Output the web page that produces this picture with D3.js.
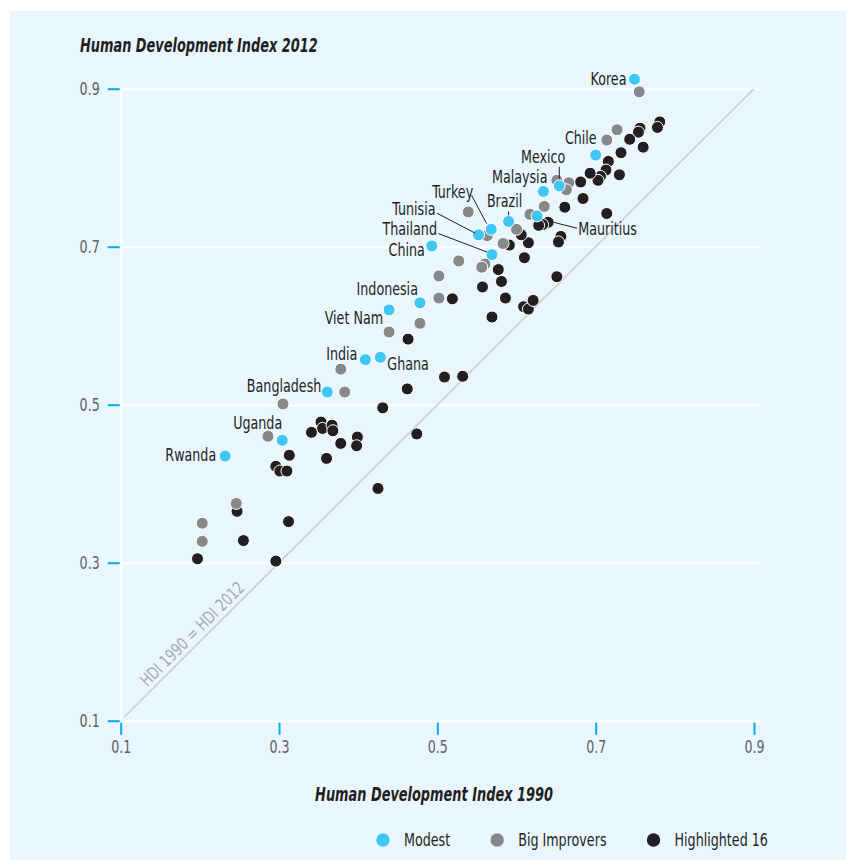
<!DOCTYPE html>
<html>
<head>
<meta charset="utf-8">
<script src="https://cdn.jsdelivr.net/npm/d3@7"></script>
<style>
  body { margin: 0; background: #fff; }
  svg { display: block; font-family: "Liberation Sans Narrow", "Arial Narrow", "DejaVu Sans Condensed", sans-serif; }
  .tick text { fill: #5f6062; font-size: 18px; }
  .label { fill: #231f20; font-size: 17px; }
  .title { fill: #231f20; font-size: 19px; font-weight: bold; font-style: italic; }
</style>
</head>
<body>
<div id="chart"></div>
<script>
// HDI 1990 (x) against HDI 2012 (y)
const modest = [
    { c: 'Korea', x: 0.749, y: 0.912 },
    { c: 'Chile', x: 0.700, y: 0.816 },
    { c: 'Mexico', x: 0.654, y: 0.777 },
    { c: 'Malaysia', x: 0.634, y: 0.770 },
    { c: '', x: 0.626, y: 0.739 },
    { c: 'Brazil', x: 0.590, y: 0.732 },
    { c: 'Turkey', x: 0.568, y: 0.722 },
    { c: 'Tunisia', x: 0.552, y: 0.715 },
    { c: 'Thailand', x: 0.569, y: 0.690 },
    { c: 'China', x: 0.493, y: 0.701 },
    { c: 'Indonesia', x: 0.478, y: 0.629 },
    { c: 'Viet Nam', x: 0.439, y: 0.620 },
    { c: 'India', x: 0.409, y: 0.557 },
    { c: 'Ghana', x: 0.428, y: 0.560 },
    { c: 'Bangladesh', x: 0.361, y: 0.516 },
    { c: 'Uganda', x: 0.304, y: 0.455 },
    { c: 'Rwanda', x: 0.232, y: 0.435 }
];

const bigImprovers = [
    { x: 0.755, y: 0.896 }, { x: 0.727, y: 0.848 }, { x: 0.714, y: 0.835 },
    { x: 0.651, y: 0.784 }, { x: 0.666, y: 0.781 }, { x: 0.663, y: 0.772 },
    { x: 0.635, y: 0.751 }, { x: 0.617, y: 0.741 }, { x: 0.600, y: 0.722 },
    { x: 0.583, y: 0.704 }, { x: 0.563, y: 0.714 }, { x: 0.539, y: 0.744 },
    { x: 0.560, y: 0.678 }, { x: 0.556, y: 0.674 }, { x: 0.527, y: 0.682 },
    { x: 0.502, y: 0.663 }, { x: 0.502, y: 0.635 }, { x: 0.478, y: 0.603 },
    { x: 0.439, y: 0.592 }, { x: 0.378, y: 0.545 }, { x: 0.383, y: 0.516 },
    { x: 0.305, y: 0.501 }, { x: 0.286, y: 0.460 }, { x: 0.246, y: 0.375 },
    { x: 0.203, y: 0.350 }, { x: 0.203, y: 0.327 }
];

const highlighted = [
    { x: 0.781, y: 0.858 }, { x: 0.778, y: 0.851 }, { x: 0.756, y: 0.850 },
    { x: 0.754, y: 0.845 }, { x: 0.743, y: 0.836 }, { x: 0.760, y: 0.826 },
    { x: 0.732, y: 0.819 }, { x: 0.716, y: 0.808 }, { x: 0.713, y: 0.797 },
    { x: 0.730, y: 0.791 }, { x: 0.706, y: 0.789 }, { x: 0.703, y: 0.784 },
    { x: 0.693, y: 0.793 }, { x: 0.681, y: 0.782 }, { x: 0.684, y: 0.761 },
    { x: 0.661, y: 0.750 }, { x: 0.714, y: 0.742 },
    { c: 'Mauritius', x: 0.640, y: 0.731 },
    { x: 0.633, y: 0.728 }, { x: 0.628, y: 0.727 }, { x: 0.656, y: 0.713 },
    { x: 0.653, y: 0.706 }, { x: 0.615, y: 0.705 }, { x: 0.606, y: 0.715 },
    { x: 0.591, y: 0.702 }, { x: 0.610, y: 0.686 }, { x: 0.577, y: 0.671 },
    { x: 0.581, y: 0.656 }, { x: 0.557, y: 0.649 }, { x: 0.651, y: 0.662 },
    { x: 0.586, y: 0.635 }, { x: 0.519, y: 0.634 }, { x: 0.609, y: 0.624 },
    { x: 0.615, y: 0.621 }, { x: 0.621, y: 0.632 }, { x: 0.569, y: 0.611 },
    { x: 0.463, y: 0.583 }, { x: 0.509, y: 0.535 }, { x: 0.532, y: 0.536 },
    { x: 0.462, y: 0.520 }, { x: 0.431, y: 0.496 }, { x: 0.474, y: 0.463 },
    { x: 0.353, y: 0.478 }, { x: 0.355, y: 0.470 }, { x: 0.367, y: 0.474 },
    { x: 0.368, y: 0.467 }, { x: 0.341, y: 0.465 }, { x: 0.378, y: 0.451 },
    { x: 0.399, y: 0.459 }, { x: 0.398, y: 0.448 }, { x: 0.360, y: 0.432 },
    { x: 0.313, y: 0.436 }, { x: 0.296, y: 0.422 }, { x: 0.301, y: 0.416 },
    { x: 0.310, y: 0.416 }, { x: 0.425, y: 0.394 }, { x: 0.247, y: 0.365 },
    { x: 0.312, y: 0.352 }, { x: 0.255, y: 0.328 }, { x: 0.197, y: 0.305 },
    { x: 0.296, y: 0.302 }
];

const tickValues = [0.1, 0.3, 0.5, 0.7, 0.9];
const legendNames = ['Modest', 'Big Improvers', 'Highlighted 16'];

// label placement relative to each dot: offset, anchor, optional leader line
const labelPos = {
    'Korea':      { dx: -8, dy: 0, a: 'end' },
    'Chile':      { dx: 1, dy: -17, a: 'end' },
    'Mexico':     { dx: 6, dy: -29, a: 'end', line: [0, -19, 0, -7] },
    'Malaysia':   { dx: 4, dy: -14, a: 'end' },
    'Brazil':     { dx: -4, dy: -20, a: 'middle', line: [0, -10, 0, -6] },
    'Turkey':     { dx: -18, dy: -37, a: 'end', line: [-19.6, -34, -4.6, -5.7] },
    'Tunisia':    { dx: -43, dy: -26, a: 'end', line: [-41.6, -21.7, -3.3, -1.7] },
    'Thailand':   { dx: -55, dy: -26, a: 'end', line: [-53.4, -21, -5, -2.6] },
    'China':      { dx: -7, dy: 4, a: 'end' },
    'Indonesia':  { dx: -2, dy: -14, a: 'end' },
    'Viet Nam':   { dx: -6, dy: 8, a: 'end' },
    'India':      { dx: -8, dy: -6, a: 'end' },
    'Ghana':      { dx: 7, dy: 7, a: 'start' },
    'Bangladesh': { dx: -6, dy: -6, a: 'end' },
    'Uganda':     { dx: 0, dy: -17, a: 'end' },
    'Rwanda':     { dx: -9, dy: -1, a: 'end' },
    'Mauritius':  { dx: 30, dy: 7, a: 'start', line: [5, 0, 29, 6] }
};

const colors = { modest: '#3fc6f3', big: '#87888a', high: '#231f20' };

const width = 856, height = 867;
const plotLeft = 120.7, plotRight = 754, plotTop = 88.7, plotBottom = 720.7;

// the original uses a condensed face; squeeze the fallback font to the same widths
function condense(sel, k) {
    sel.each(function () {
        const len = this.getComputedTextLength();
        d3.select(this).attr('textLength', len * k).attr('lengthAdjust', 'spacingAndGlyphs');
    });
}

const svg = d3.select('#chart').append('svg')
    .attr('width', width)
    .attr('height', height);

svg.append('rect')
    .attr('x', 10).attr('y', 11)
    .attr('width', 836).attr('height', 849)
    .attr('fill', '#e9f6fd');

const x = d3.scaleLinear().domain([0.1, 0.9]).range([plotLeft, plotRight]);
const y = d3.scaleLinear().domain([0.1, 0.9]).range([plotBottom, plotTop]);

// white grid + left axis line
const grid = svg.append('g')
    .attr('transform', 'translate(' + plotLeft + ',0)')
    .call(d3.axisLeft(y).tickValues(tickValues).tickSize(-(760 - plotLeft)).tickSizeOuter(0).tickFormat(''));
grid.selectAll('line, path').attr('stroke', '#fff').attr('stroke-width', 2);

// tick marks and labels
const yAxis = svg.append('g')
    .attr('transform', 'translate(' + (plotLeft - 1) + ',0)')
    .call(d3.axisLeft(y).tickValues(tickValues).tickSize(12).tickPadding(8).tickFormat(d3.format('.1f')));
yAxis.select('.domain').remove();
yAxis.selectAll('.tick line').attr('stroke', '#00aeef').attr('stroke-width', 2);

const xAxis = svg.append('g')
    .attr('transform', 'translate(0,' + (plotBottom + 2) + ')')
    .call(d3.axisBottom(x).tickValues(tickValues).tickSize(12).tickPadding(6).tickFormat(d3.format('.1f')));
xAxis.select('.domain').remove();
xAxis.selectAll('.tick line').attr('stroke', '#00aeef').attr('stroke-width', 2);
svg.selectAll('g').attr('font-family', null).attr('font-size', null);
condense(svg.selectAll('.tick text'), 0.78);

// equality line
svg.append('line')
    .attr('x1', x(0.105)).attr('y1', y(0.105))
    .attr('x2', x(0.9)).attr('y2', y(0.9))
    .attr('stroke', '#c9cacb').attr('stroke-width', 1.5);

svg.append('text')
    .attr('transform', 'translate(' + x(0.2) + ',' + y(0.2) + ') rotate(-45)')
    .attr('dy', -5)
    .attr('text-anchor', 'middle')
    .attr('fill', '#a7a9ac')
    .style('font-size', '17px')
    .text('HDI 1990 = HDI 2012')
    .call(condense, 0.84);

// titles
svg.append('text').attr('class', 'title')
    .attr('x', 80).attr('y', 52)
    .text('Human Development Index 2012')
    .call(condense, 0.755);
svg.append('text').attr('class', 'title')
    .attr('x', 434).attr('y', 801)
    .attr('text-anchor', 'middle')
    .text('Human Development Index 1990')
    .call(condense, 0.755);

// dots: black first, then grey, cyan on top
function dots(data, fill) {
    svg.append('g').selectAll('circle')
        .data(data)
        .join('circle')
        .attr('cx', d => x(d.x))
        .attr('cy', d => y(d.y))
        .attr('r', 6)
        .attr('fill', fill)
        .attr('stroke', '#fff')
        .attr('stroke-width', 1);
}
dots(highlighted, colors.high);
dots(bigImprovers, colors.big);
dots(modest, colors.modest);

// country labels
const named = modest.concat(highlighted).filter(d => d.c);
const lab = svg.append('g');
named.forEach(d => {
    const p = labelPos[d.c];
    const cx = x(d.x), cy = y(d.y);
    if (p.line) {
        lab.append('line')
            .attr('x1', cx + p.line[0]).attr('y1', cy + p.line[1])
            .attr('x2', cx + p.line[2]).attr('y2', cy + p.line[3])
            .attr('stroke', '#231f20').attr('stroke-width', 1);
    }
    lab.append('text').attr('class', 'label')
        .attr('x', cx + p.dx)
        .attr('y', cy + p.dy)
        .attr('dy', '0.35em')
        .attr('text-anchor', p.a)
        .text(d.c);
});
condense(lab.selectAll('text'), 0.83);

// legend
const legendColors = [colors.modest, colors.big, colors.high];
let lx = 383;
legendNames.forEach((name, i) => {
    svg.append('circle')
        .attr('cx', lx).attr('cy', 840).attr('r', 6.7)
        .attr('fill', legendColors[i]);
    const t = svg.append('text').attr('class', 'label')
        .attr('x', lx + 21).attr('y', 840).attr('dy', '0.35em')
        .text(name);
    const w = t.node().getComputedTextLength() * 0.83;
    t.attr('textLength', w).attr('lengthAdjust', 'spacingAndGlyphs');
    lx += 21 + w + 47;
});
</script>
</body>
</html>
